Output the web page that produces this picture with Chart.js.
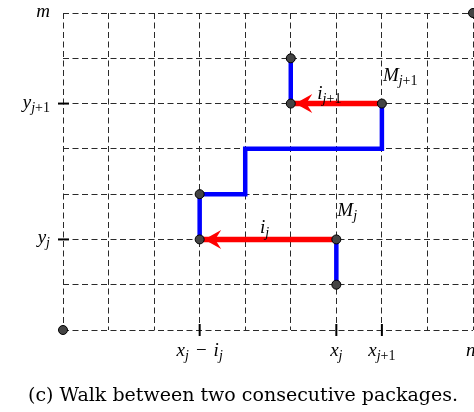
<!DOCTYPE html>
<html>
<head>
<meta charset="utf-8">
<script src="https://cdn.jsdelivr.net/npm/chart.js@4/dist/chart.umd.min.js"></script>
<style>
  html, body { margin: 0; padding: 0; background: #fff; }
  #wrap { width: 474px; height: 412px; }
</style>
</head>
<body>
<div id="wrap"><canvas id="walkChart"></canvas></div>
<script>
// grid size (n columns, m rows)
const xMax = 9
const yMax = 7

// blue walk pieces
const walkLower = [[6, 1], [6, 2]]
const walkMiddle = [[3, 2], [3, 3], [4, 3], [4, 4], [7, 4], [7, 5]]
const walkUpper = [[5, 5], [5, 6]]

// red arrows (from -> to)
const arrowJ = [[6, 2], [3, 2]]
const arrowJ1 = [[7, 5], [5, 5]]

// black dots
const dots = [[0, 0], [6, 1], [6, 2], [3, 2], [3, 3], [7, 5], [5, 5], [5, 6], [9, 7]]

// axis labels, tick marks only where marked
const yTickValues = [7, 5, 2]
const yTickLabels = ['m', 'y_{j+1}', 'y_j']
const yTickMarked = [false, true, true]
const xTickValues = [3, 6, 7, 9]
const xTickLabels = ['x_j−i_j', 'x_j', 'x_{j+1}', 'n']
const xTickMarked = [true, true, true, false]

// labels next to the walk
const noteText = ['M_j', 'M_{j+1}', 'i_j', 'i_{j+1}']
const notePos = [[6, 2], [7, 5], [4.5, 2], [6, 5]]

const caption = '(c) Walk between two consecutive packages.'

const toXY = arr => arr.map(p => ({x: p[0], y: p[1]}))

// split "x_{j+1}" into pieces: [text, isSub]
function parseMath(s) {
  const out = []
  let i = 0
  while (i < s.length) {
    if (s[i] === '_') {
      if (s[i + 1] === '{') {
        const end = s.indexOf('}', i)
        out.push([s.slice(i + 2, end), true])
        i = end + 1
      } else {
        out.push([s[i + 1], true])
        i += 2
      }
    } else {
      let j = i
      while (j < s.length && s[j] !== '_') j++
      out.push([s.slice(i, j), false])
      i = j
    }
  }
  return out
}

function charFont(ch, sub) {
  const size = sub ? 14 : 19
  const italic = /[a-zA-Z]/.test(ch)
  return (italic ? 'italic ' : '') + size + 'px "Liberation Serif"'
}

// binary operators get some room around them
const charPad = ch => (ch === '−' ? 7 : 0)

function mathWidth(ctx, s) {
  let w = 0
  parseMath(s).forEach(([t, sub]) => {
    for (const ch of t) { ctx.font = charFont(ch, sub); w += ctx.measureText(ch).width + 2 * charPad(ch) }
  })
  return w
}

// draw math text, x = left edge, y = baseline
function drawMath(ctx, s, x, y) {
  ctx.textBaseline = 'alphabetic'
  ctx.textAlign = 'left'
  parseMath(s).forEach(([t, sub]) => {
    for (const ch of t) {
      ctx.font = charFont(ch, sub)
      x += charPad(ch)
      ctx.fillText(ch, x, sub ? y + 4 : y)
      x += ctx.measureText(ch).width + charPad(ch)
    }
  })
}

const arrowHeads = {
  id: 'arrowHeads',
  afterDatasetDraw(chart, args) {
    const ds = chart.data.datasets[args.index]
    if (!ds.arrow) return
    const ctx = chart.ctx
    const xs = chart.scales.x, ys = chart.scales.y
    const a = ds.data[0], b = ds.data[ds.data.length - 1]
    const x1 = xs.getPixelForValue(a.x), y1 = ys.getPixelForValue(a.y)
    const x2 = xs.getPixelForValue(b.x), y2 = ys.getPixelForValue(b.y)
    const ang = Math.atan2(y2 - y1, x2 - x1)
    ctx.save()
    ctx.translate(x2, y2)
    ctx.rotate(ang)
    ctx.translate(-4.5, 0)
    ctx.beginPath()
    ctx.moveTo(0, 0)
    ctx.lineTo(-17, -9.5)
    ctx.lineTo(-11, 0)
    ctx.lineTo(-17, 9.5)
    ctx.closePath()
    ctx.fillStyle = '#ff0000'
    ctx.fill()
    ctx.restore()
  }
}

const labelsPlugin = {
  id: 'labelsPlugin',
  afterDraw(chart) {
    const ctx = chart.ctx
    const xs = chart.scales.x, ys = chart.scales.y
    ctx.save()
    ctx.fillStyle = '#000'
    ctx.strokeStyle = '#000'
    ctx.lineWidth = 2
    const x0 = xs.getPixelForValue(0), y0 = ys.getPixelForValue(0)
    yTickValues.forEach((v, i) => {
      const py = ys.getPixelForValue(v)
      if (yTickMarked[i]) {
        ctx.beginPath(); ctx.moveTo(x0 - 5, py); ctx.lineTo(x0 + 6, py); ctx.stroke()
      }
      const w = mathWidth(ctx, yTickLabels[i])
      drawMath(ctx, yTickLabels[i], x0 - 13 - w, py + 4)
    })
    xTickValues.forEach((v, i) => {
      const px = xs.getPixelForValue(v)
      if (xTickMarked[i]) {
        ctx.beginPath(); ctx.moveTo(px, y0 - 6); ctx.lineTo(px, y0 + 6); ctx.stroke()
      }
      const w = mathWidth(ctx, xTickLabels[i])
      const left = v === xMax ? px - 7 : px - w / 2
      drawMath(ctx, xTickLabels[i], left, y0 + 26)
    })
    const offs = [[1, -23], [1, -23], [-8, -6], [-19, -5]]
    noteText.forEach((t, i) => {
      const px = xs.getPixelForValue(notePos[i][0]), py = ys.getPixelForValue(notePos[i][1])
      drawMath(ctx, t, px + offs[i][0], py + offs[i][1])
    })
    ctx.font = '19px "DejaVu Serif"'
    ctx.textAlign = 'center'
    ctx.textBaseline = 'alphabetic'
    ctx.fillText(caption, 243, 401)
    ctx.restore()
  }
}

const lineStyle = (color, width) => ({
  showLine: true,
  borderColor: color,
  backgroundColor: color,
  borderWidth: width,
  pointRadius: 0,
  fill: false,
  tension: 0,
  clip: false
})

const data = {
  datasets: [
    {
      data: toXY(dots),
      pointRadius: 4.5,
      pointBackgroundColor: '#444',
      pointBorderColor: '#000',
      pointBorderWidth: 1,
      showLine: false,
      clip: false
    },
    Object.assign({data: toXY(arrowJ), arrow: true}, lineStyle('#ff0000', 5.5)),
    Object.assign({data: toXY(arrowJ1), arrow: true}, lineStyle('#ff0000', 5.5)),
    Object.assign({data: toXY(walkLower)}, lineStyle('#0000ff', 4.5)),
    Object.assign({data: toXY(walkMiddle)}, lineStyle('#0000ff', 4.5)),
    Object.assign({data: toXY(walkUpper)}, lineStyle('#0000ff', 4.5)),
  ]
}

const gridScale = (max) => ({
  type: 'linear',
  min: 0,
  max: max,
  ticks: { display: false, stepSize: 1 },
  grid: { color: '#2a2a2a', lineWidth: 1, drawTicks: false },
  border: { display: false, dash: [6, 3.5] }
})

const config = {
  type: 'scatter',
  data: data,
  options: {
    responsive: false,
    animation: false,
    layout: { autoPadding: false, padding: { left: 63, right: 1, top: 13, bottom: 82 } },
    plugins: { legend: { display: false }, tooltip: { enabled: false } },
    scales: { x: gridScale(xMax), y: gridScale(yMax) }
  },
  plugins: [arrowHeads, labelsPlugin]
}

const canvas = document.getElementById('walkChart')
canvas.width = 474
canvas.height = 412
const myChart = new Chart(canvas, config)
</script>
</body>
</html>
